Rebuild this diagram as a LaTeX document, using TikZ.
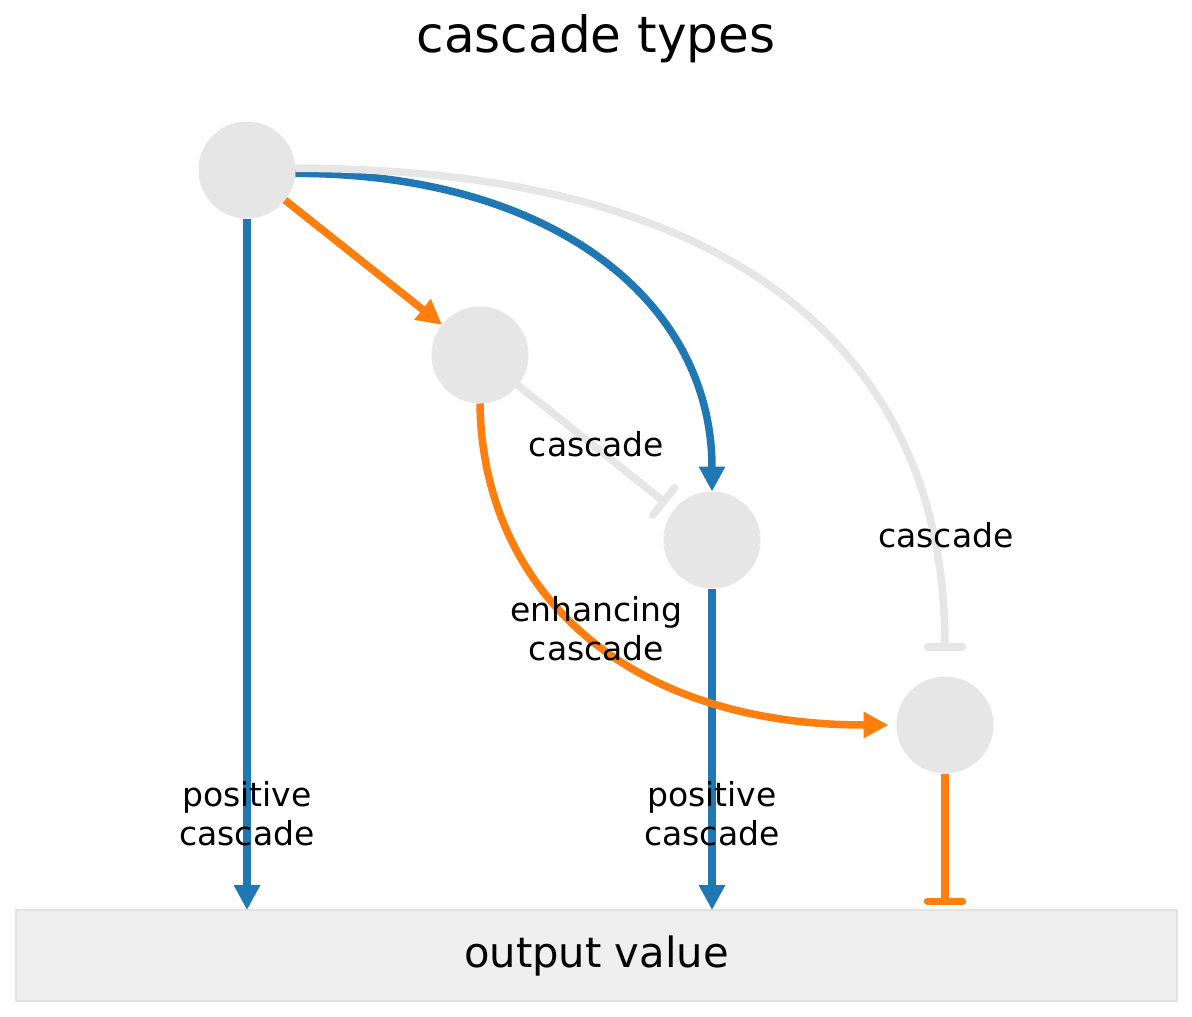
\documentclass[tikz,border=0pt]{standalone}
\usepackage{fontspec}
\setmainfont{DejaVu Sans}
\usetikzlibrary{arrows.meta,calc}
\definecolor{tabblue}{HTML}{1F77B4}
\definecolor{taborange}{HTML}{FF7F0E}
\definecolor{nodegray}{HTML}{E6E6E6}
\definecolor{boxfill}{HTML}{EFEFEF}
\definecolor{boxline}{HTML}{E2E2E2}
\begin{document}
\begin{tikzpicture}[x=1pt,y=-1pt,
  circ/.style={circle,fill=nodegray,minimum size=97pt,inner sep=0pt,outer sep=0pt},
  edge/.style={line width=7.5pt},
  blueedge/.style={edge,draw=tabblue,-{Triangle[length=25pt,width=25pt]}},
  orangearrow/.style={edge,draw=taborange,-{Triangle[length=25pt,width=25pt]}},
  orangebar/.style={edge,draw=taborange,-{Bar[width=35pt,round]}},
  graybar/.style={edge,draw=nodegray,-{Bar[width=35pt,round]}},
  lbl/.style={font=\fontsize{33}{39}\selectfont,align=center,text=black,inner sep=0pt}]
\useasboundingbox (0,0) rectangle (1192,1017);
\fill[white] (0,0) rectangle (1192,1017);

\node[font=\fontsize{50}{60}\selectfont, inner sep=0pt] (title) at (596,39) {cascade types};
\node[draw=boxline, fill=boxfill, line width=2.5pt, minimum width=1161pt, minimum height=91pt,
      inner sep=0pt, outer sep=0pt, font=\fontsize{41.7}{50}\selectfont] (out) at (596.5,955.5) {output value};

\node[circ] (A) at (247,170) {};
\node[circ] (B) at (480,355) {};
\node[circ] (C) at (712,540) {};
\node[circ] (D) at (945,725) {};

\coordinate (Dbar) at ($(D.north)+(0,-26)$);
\coordinate (Cbar) at ($(C)!58pt!(B)$);
\coordinate (Obar) at ($(D.south |- out.north)+(0,-5)$);
\coordinate (Dleft) at ($(D.west)+(-8,0)$);

\draw[blueedge] (A.-4) .. controls +(258,0) and +(0,-190) .. (C.north);
\draw[graybar] (A.2) .. controls +(454,0) and +(0,-287) .. (Dbar);
\draw[orangearrow] (A) -- (B);
\draw[graybar] (B) -- (Cbar);
\draw[blueedge] (A.south) -- (A.south |- out.north);
\draw[blueedge] (C.south) -- (C.south |- out.north);
\draw[orangearrow] (B.south) .. controls +(2,180) and +(-270,0) .. (Dleft);
\draw[orangebar] (D.south) -- (Obar);

\node[lbl] (l1) at (247,814) {positive\\cascade};
\node[lbl] (l2) at (712,814) {positive\\cascade};
\node[lbl] (l3) at (596.5,444) {cascade};
\node[lbl] (l4) at (596.5,629) {enhancing\\cascade};
\node[lbl] (l5) at (946,535) {cascade};
\end{tikzpicture}
\end{document}
